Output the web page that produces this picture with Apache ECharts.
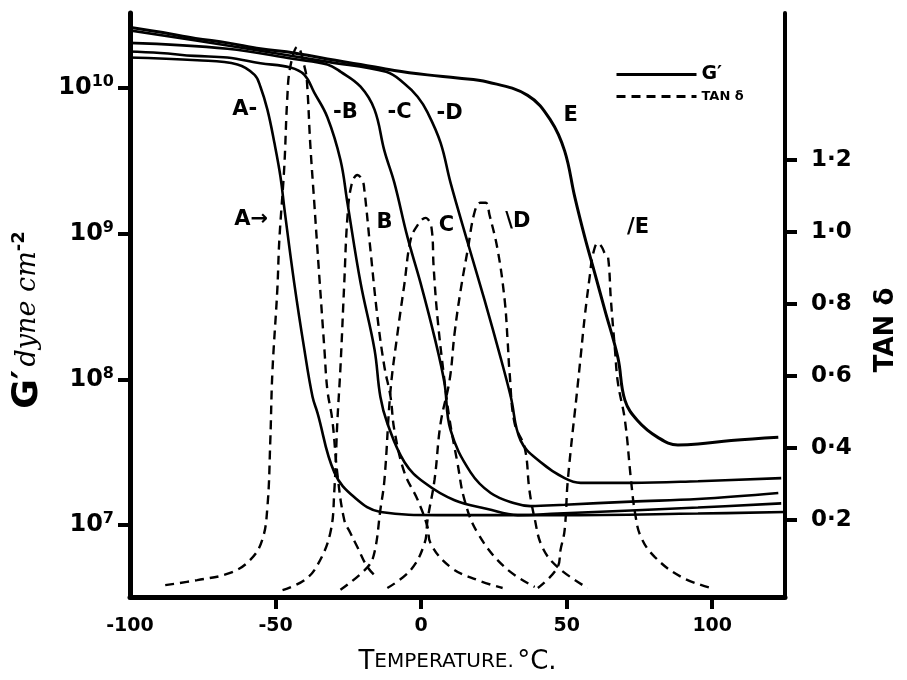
<!DOCTYPE html>
<html>
<head>
<meta charset="utf-8">
<script src="https://cdn.jsdelivr.net/npm/echarts@6/dist/echarts.min.js"></script>
<style>
	html, body { margin: 0; padding: 0; background: #fff; }
	#chart { width: 907px; height: 680px; }
</style>
</head>
<body>
<div id="chart"></div>
<script>
// G' (dyne cm^-2) against temperature (°C), curves A..E
var gA = [[-101,1.62e10],[-76.9,1.55e10],[-63.1,1.45e10],[-57.2,1.23e10],[-55.2,1.02e10],[-52.8,7.1e9],[-50.4,4.2e9],[-48.3,2.45e9],[-46.9,1.45e9],[-43.6,4.6e8],[-40.1,1.6e8],[-37.3,7.6e7],[-35.6,5.9e7],[-29.8,2.3e7],[-22.9,1.55e7],[-13.9,1.23e7],[5.6,1.17e7],[46.9,1.17e7],[95.1,1.2e7],[125,1.23e7]];
var gB = [[-101,1.78e10],[-89.6,1.74e10],[-77.9,1.66e10],[-66.6,1.62e10],[-55.2,1.48e10],[-44.9,1.38e10],[-40.1,1.23e10],[-36.7,9.3e9],[-32.2,6.3e9],[-27.7,3.2e9],[-25.3,1.62e9],[-20.8,4.6e8],[-16.0,1.6e8],[-14.0,7.6e7],[-11.6,5.0e7],[-5.7,2.7e7],[1.2,1.95e7],[11.5,1.48e7],[22.8,1.29e7],[33.2,1.17e7],[46.9,1.2e7],[72.1,1.26e7],[95.1,1.32e7],[123.7,1.41e7]];
var gC = [[-101,2.04e10],[-66.5,1.86e10],[-43.6,1.58e10],[-32.2,1.45e10],[-27.6,1.29e10],[-20.8,1.02e10],[-16.0,7.1e9],[-12.6,3.7e9],[-9.2,2.24e9],[-4.7,9.5e8],[-0.2,4.6e8],[4.6,1.95e8],[8.0,9.5e7],[10.1,4.5e7],[17.0,2.3e7],[23.9,1.66e7],[32.1,1.41e7],[37.6,1.35e7],[49.3,1.38e7],[72.1,1.45e7],[95.1,1.51e7],[122.7,1.66e7]];
var gD = [[-101,2.5e10],[-66,1.95e10],[-32,1.51e10],[-12,1.29e10],[-5.7,1.07e10],[-1.2,8.7e9],[2.2,6.8e9],[6.7,4.2e9],[10.1,2.24e9],[16.0,8.7e8],[21.8,3.5e8],[27.3,1.41e8],[30.8,7.6e7],[34.2,3.8e7],[41.1,2.7e7],[49.3,2.1e7],[54.8,1.95e7],[72.1,1.95e7],[95.1,2.0e7],[123.7,2.1e7]];
var gE = [[-101,2.63e10],[-88.7,2.4e10],[-77.5,2.19e10],[-66.5,2.04e10],[-55.2,1.86e10],[-43.6,1.74e10],[-32.2,1.58e10],[-20.8,1.45e10],[-9.2,1.32e10],[2.2,1.23e10],[12.5,1.17e10],[22.8,1.1e10],[36.6,8.9e9],[44.5,6.0e9],[49.3,3.7e9],[52.8,1.78e9],[56.2,9.5e8],[59.6,5.4e8],[63.1,3.0e8],[67.6,1.41e8],[70.0,7.2e7],[74.4,5.2e7],[81.3,4.0e7],[88.2,3.55e7],[95.1,3.6e7],[106.5,3.8e7],[122.7,4.0e7]];

// tan delta against temperature
var tA = [[-87.9,0.019],[-76.9,0.033],[-65.6,0.053],[-58.7,0.089],[-54.6,0.144],[-52.8,0.236],[-51.8,0.422],[-51.1,0.608],[-49.4,0.839],[-48.7,0.978],[-47.0,1.181],[-46.0,1.367],[-45.0,1.456],[-42.5,1.514],[-39.8,1.450],[-39.1,1.403],[-38.1,1.247],[-36.7,1.081],[-35.6,0.950],[-33.2,0.672],[-32.2,0.561],[-30.5,0.478],[-28.8,0.331],[-26.4,0.200],[-24.3,0.164],[-21.9,0.125],[-18.4,0.069],[-15.0,0.039]];
var tB = [[-47.6,0.005],[-40.1,0.033],[-35.6,0.075],[-31.2,0.164],[-29.8,0.283],[-28.8,0.469],[-27.7,0.625],[-26.4,0.858],[-25.3,1.042],[-23.9,1.131],[-21.9,1.158],[-20.2,1.144],[-19.5,1.117],[-17.4,0.950],[-15.0,0.764],[-12.6,0.625],[-10.5,0.542],[-9.2,0.450],[-5.7,0.331],[-1.2,0.256],[2.2,0.181],[3.2,0.136],[10.1,0.069],[19.4,0.033],[28.0,0.011]];
var tC = [[-27.7,0.006],[-18.4,0.069],[-16.0,0.111],[-14.0,0.228],[-12.6,0.311],[-10.5,0.561],[-8.1,0.719],[-5.7,0.858],[-3.6,0.978],[-1.2,1.019],[1.5,1.039],[3.6,1.010],[4.3,0.903],[5.6,0.764],[8.0,0.589],[9.8,0.478],[12.5,0.358],[14.9,0.256],[19.4,0.164],[28.7,0.069],[39.0,0.014]];
var tD = [[-11.6,0.011],[-3.6,0.061],[1.2,0.136],[2.2,0.200],[4.6,0.311],[6.7,0.469],[9.8,0.589],[11.5,0.719],[13.6,0.839],[16.0,0.950],[18.4,1.056],[20.4,1.081],[22.2,1.081],[23.5,1.047],[26.3,0.950],[28.7,0.811],[29.7,0.700],[30.4,0.608],[32.1,0.469],[35.6,0.400],[37.2,0.283],[38.9,0.208],[41.6,0.125],[46.9,0.069],[57.2,0.011]];
var tE = [[40.1,0.011],[46.9,0.069],[47.9,0.117],[49.3,0.172],[50.4,0.311],[53.8,0.575],[54.8,0.653],[56.2,0.764],[57.9,0.875],[59.0,0.936],[60.7,0.969],[62.1,0.958],[63.2,0.939],[64.2,0.931],[65.2,0.811],[66.6,0.672],[67.6,0.581],[70.0,0.478],[72.1,0.311],[73.5,0.219],[75.5,0.153],[80.3,0.097],[89.3,0.042],[99.6,0.011]];

var xTicks = [-100, -50, 0, 50, 100];
var gTicks = [1e7, 1e8, 1e9, 1e10];
var tTicks = [0.2, 0.4, 0.6, 0.8, 1.0, 1.2];

// curve tags: text, temperature, value
var gTags = [['A-', -60.6, 7.1e9], ['-B', -26, 6.8e9], ['-C', -7.4, 6.8e9], ['-D', 9.8, 6.7e9], ['E', 51.4, 6.5e9]];
var tTags = [['A→', -58.4, 1.033], ['B', -12.6, 1.025], ['C', 8.7, 1.019], ['\\D', 33.2, 1.028], ['/E', 74.5, 1.011]];

var FONT = 'DejaVu Sans';
var chart = echarts.init(document.getElementById('chart'));

function tagPoint(tag){
	return {
		name: tag[0],
		coord: [tag[1], tag[2]],
		symbol: 'circle',
		symbolSize: 1,
		itemStyle: { color: 'rgba(0,0,0,0)' },
		label: { show: true, position: 'inside', formatter: '{b}', color: '#000', fontFamily: FONT, fontWeight: 'bold', fontSize: 21 }
	};
}

var series = [];
[gA, gB, gC, gD, gE].forEach(function(d, i){
	series.push({
		type: 'line', name: 'G′', yAxisIndex: 0, data: d,
		symbol: 'none', smooth: 0.4,
		itemStyle: { color: '#000' },
		lineStyle: { color: '#000', width: i == 4 ? 3 : 2.6 },
		markPoint: { silent: true, data: [tagPoint(gTags[i])] },
		z: 3
	});
});
[tA, tB, tC, tD, tE].forEach(function(d, i){
	series.push({
		type: 'line', name: 'TAN δ', yAxisIndex: 1, data: d,
		symbol: 'none', smooth: 0.4,
		itemStyle: { color: '#000' },
		lineStyle: { color: '#000', width: 2.4, type: [9, 6] },
		markPoint: { silent: true, data: [tagPoint(tTags[i])] },
		z: 2
	});
});

var option = {
	animation: false,
	backgroundColor: '#fff',
	grid: { left: 130, right: 119, top: 13, bottom: 83 },
	legend: {
		data: ['G′', 'TAN δ'],
		orient: 'vertical',
		left: 610, top: 60,
		itemWidth: 80, itemHeight: 14, itemGap: 6,
		selectedMode: false,
		itemStyle: { opacity: 0 },
		lineStyle: { width: 3 },
		formatter: function(n){ return n == 'G′' ? '{g|G′}' : '{t|TAN δ}'; },
		textStyle: {
			rich: {
				g: { fontFamily: FONT, fontWeight: 'bold', fontSize: 19, color: '#000', lineHeight: 14 },
				t: { fontFamily: FONT, fontWeight: 'bold', fontSize: 13, color: '#000', lineHeight: 14 }
			}
		}
	},
	xAxis: {
		type: 'value', min: -100, max: 125,
		name: '{b|T}{s|EMPERATURE.} {b|°C.}',
		nameLocation: 'middle', nameGap: 52,
		nameTextStyle: {
			rich: {
				b: { fontFamily: FONT, fontSize: 26, color: '#000' },
				s: { fontFamily: FONT, fontSize: 20, color: '#000' }
			}
		},
		splitLine: { show: false },
		axisLine: { onZero: false, lineStyle: { color: '#000', width: 5 } },
		axisTick: { customValues: [-50, 0, 50, 100], length: 12, lineStyle: { color: '#000', width: 4 } },
		axisLabel: {
			customValues: xTicks, margin: 20, color: '#000',
			fontFamily: FONT, fontWeight: 'bold', fontSize: 19,
			formatter: function(v){ return v < 0 ? '-' + Math.abs(v) : String(v); }
		}
	},
	yAxis: [{
		type: 'log', logBase: 10, min: 3.21e6, max: 3.27e10,
		position: 'left',
		name: '{g|G′} {d|dyne cm}{s|-2}',
		nameLocation: 'middle', nameGap: 84,
		nameTextStyle: {
			padding: [0, 30, 0, 0],
			rich: {
				g: { fontFamily: FONT, fontWeight: 'bold', fontSize: 36, color: '#000' },
				d: { fontFamily: 'DejaVu Serif', fontStyle: 'italic', fontSize: 27, color: '#000' },
				s: { fontFamily: FONT, fontWeight: 'bold', fontSize: 18, color: '#000', padding: [0, 0, 17, 0] }
			}
		},
		splitLine: { show: false },
		axisLine: { show: true, onZero: false, lineStyle: { color: '#000', width: 5 } },
		axisTick: { customValues: gTicks, length: 12, lineStyle: { color: '#000', width: 4 } },
		axisLabel: {
			customValues: gTicks, margin: 16,
			formatter: function(v){ return '{b|10}{s|' + Math.round(Math.log10(v)) + '}'; },
			rich: {
				b: { fontFamily: FONT, fontWeight: 'bold', fontSize: 24, color: '#000' },
				s: { fontFamily: FONT, fontWeight: 'bold', fontSize: 16, color: '#000', padding: [0, 0, 12, 0] }
			}
		}
	}, {
		type: 'value', min: -0.0139, max: 1.608,
		position: 'right',
		name: 'TAN δ',
		nameLocation: 'middle', nameGap: 88,
		nameTextStyle: { fontFamily: FONT, fontWeight: 'bold', fontSize: 26, color: '#000', padding: [0, 50, 0, 0] },
		splitLine: { show: false },
		axisLine: { show: true, onZero: false, lineStyle: { color: '#000', width: 4 } },
		axisTick: { customValues: tTicks, length: 12, lineStyle: { color: '#000', width: 4 } },
		axisLabel: {
			customValues: tTicks, margin: 26, color: '#000',
			fontFamily: FONT, fontWeight: 'bold', fontSize: 23,
			formatter: function(v){ return v.toFixed(1).replace('.', '·'); }
		}
	}],
	series: series
};

chart.setOption(option);
</script>
</body>
</html>
